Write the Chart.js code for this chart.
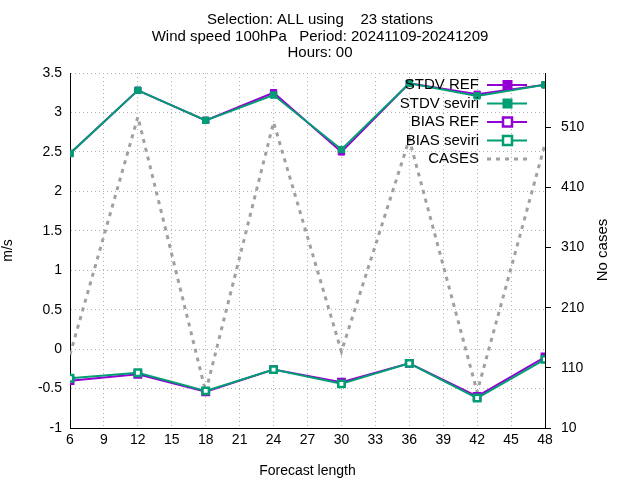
<!DOCTYPE html>
<html><head><meta charset="utf-8">
<script src="https://cdn.jsdelivr.net/npm/chart.js@4"></script>
<style>body{margin:0;background:#fff}#c{width:640px;height:480px}</style>
</head><body><div id="c"><canvas id="chart" width="640" height="480"></canvas></div>
<script>
const leadTimes = [6, 12, 18, 24, 30, 36, 42, 48];
const stdvRef = [2.48, 3.28, 2.90, 3.25, 2.50, 3.37, 3.23, 3.35];
const stdvSeviri = [2.48, 3.28, 2.90, 3.22, 2.53, 3.37, 3.21, 3.35];
const biasRef = [-0.40, -0.32, -0.54, -0.26, -0.42, -0.18, -0.60, -0.10];
const biasSeviri = [-0.37, -0.30, -0.53, -0.26, -0.44, -0.18, -0.62, -0.13];
const cases = [132, 527, 70, 518, 137, 490, 70, 482];
const titleLines = ['Selection: ALL using    23 stations', 'Wind speed 100hPa   Period: 20241109-20241209', 'Hours: 00'];

const PURPLE = '#9400d3', GREEN = '#009e73', GREY = '#a0a0a0';
const FONT = 'Liberation Sans, Arial, sans-serif';
const TICK_FONT = { size: 14, family: FONT };

function pts(vals) { return vals.map((v, i) => ({ x: leadTimes[i], y: v })); }

function series(label, vals, color, filled, order) {
    return {
        label, data: pts(vals), borderColor: color, borderWidth: 2, order,
        pointStyle: 'rect', pointRadius: 4.5, pointBorderWidth: filled ? 1 : 2.5,
        pointBackgroundColor: filled ? color : '#fff', pointBorderColor: color,
        yAxisID: 'y',
    };
}

// Title, right-hand axis label and in-plot legend drawn the gnuplot way.
const gnuplotDecor = {
    id: 'gnuplotDecor',
    afterDraw(chart) {
        const ctx = chart.ctx;
        ctx.save();
        ctx.fillStyle = '#000';
        ctx.font = '15px ' + FONT;
        ctx.textAlign = 'center';
        ctx.textBaseline = 'middle';
        titleLines.forEach((t, i) => ctx.fillText(t, 320, 20 + i * 16.5));
        ctx.save();
        ctx.translate(603, 250);
        ctx.rotate(-Math.PI / 2);
        ctx.fillText('No cases', 0, 0);
        ctx.restore();
        const right = chart.chartArea.right;
        chart.data.datasets.forEach((ds, i) => {
            const y = 85 + i * 18.5;
            ctx.textAlign = 'right';
            ctx.fillStyle = '#000';
            ctx.fillText(ds.label, right - 66, y);
            ctx.strokeStyle = ds.borderColor;
            ctx.lineWidth = ds.borderWidth;
            ctx.setLineDash(ds.borderDash || []);
            ctx.beginPath(); ctx.moveTo(right - 58, y); ctx.lineTo(right - 18, y); ctx.stroke();
            ctx.setLineDash([]);
            if (ds.pointRadius) {
                ctx.fillStyle = ds.pointBackgroundColor;
                ctx.lineWidth = ds.pointBorderWidth;
                ctx.fillRect(right - 42, y - 4.5, 9, 9);
                ctx.strokeRect(right - 42, y - 4.5, 9, 9);
            }
        });
        ctx.restore();
    },
};

const dotted = { color: '#b0b0b0', tickLength: 0 };

new Chart(document.getElementById('chart'), {
    type: 'line',
    data: {
        datasets: [
            series('STDV REF', stdvRef, PURPLE, true, 2),
            series('STDV seviri', stdvSeviri, GREEN, true, 1),
            series('BIAS REF', biasRef, PURPLE, false, 2),
            series('BIAS seviri', biasSeviri, GREEN, false, 1),
            {
                label: 'CASES', data: pts(cases), borderColor: GREY, borderWidth: 3, order: 3,
                borderDash: [4, 5], pointRadius: 0, yAxisID: 'y2',
            },
        ],
    },
    options: {
        responsive: false,
        animation: false,
        layout: { padding: { top: 73, right: 0, left: 0, bottom: 0 } },
        plugins: { legend: { display: false }, tooltip: { enabled: false } },
        scales: {
            x: {
                type: 'linear', min: 6, max: 48,
                afterBuildTicks: (s) => { s.ticks = []; for (let v = 6; v <= 48; v += 3) s.ticks.push({ value: v }); },
                grid: dotted,
                border: { color: '#000', dash: [1, 3] },
                ticks: { color: '#000', font: TICK_FONT, padding: 4, maxRotation: 0 },
                title: { display: true, text: 'Forecast length', color: '#000', font: TICK_FONT, padding: 0 },
                afterFit: (s) => { s.height = 52; },
            },
            y: {
                position: 'left', min: -1, max: 3.5,
                ticks: { stepSize: 0.5, color: '#000', font: TICK_FONT, padding: 8, callback: (v) => String(v) },
                grid: dotted,
                border: { color: '#000', dash: [1, 3] },
                title: { display: true, text: 'm/s', color: '#000', font: TICK_FONT, padding: { top: 0, bottom: 6 } },
                afterFit: (s) => { s.width = 70; },
            },
            y2: {
                position: 'right', min: 10, max: 600,
                afterBuildTicks: (s) => { s.ticks = []; for (let v = 10; v <= 600; v += 100) s.ticks.push({ value: v }); },
                ticks: { color: '#000', font: TICK_FONT, padding: 10 },
                grid: { drawOnChartArea: false, tickLength: 6, color: '#000' },
                border: { color: '#000' },
                afterFit: (s) => { s.width = 95; },
            },
        },
    },
    plugins: [gnuplotDecor],
});
</script></body></html>
